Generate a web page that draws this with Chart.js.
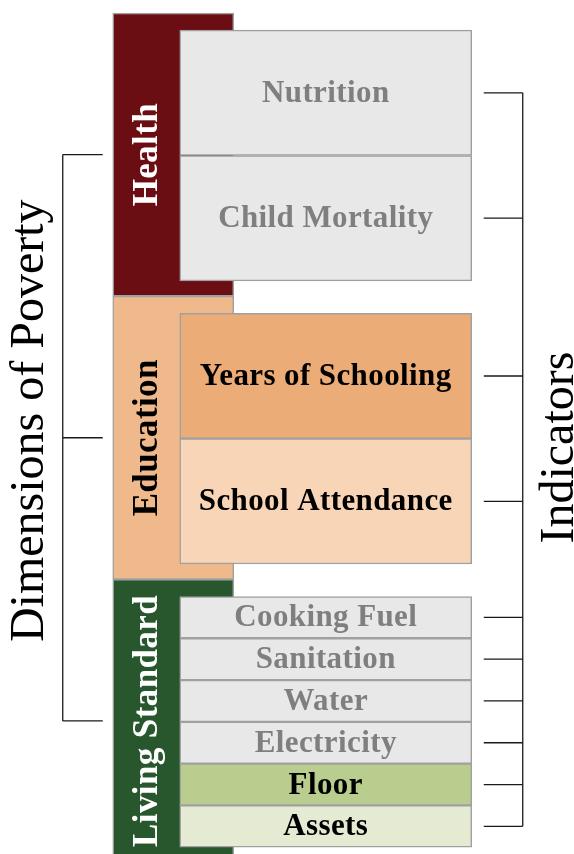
<!DOCTYPE html>
<html>
<head>
<meta charset="utf-8">
<script src="https://cdn.jsdelivr.net/npm/chart.js@4.4.1/dist/chart.umd.min.js"></script>
<style>
  html, body { margin: 0; padding: 0; background: #fff; }
  #wrap { width: 574px; height: 854px; }
</style>
</head>
<body>
<div id="wrap"><canvas id="mpi"></canvas></div>
<script>
// DIMENSIONS
const dimensions = ["Health", "Education", "Living Standard"];
const dimensionWeights = [1 / 3, 1 / 3, 1 / 3];
const dimensionColors = ["#6b0e14", "#f0b98b", "#28562d"];
const dimensionTextColors = ["#fff", "#000", "#fff"];

// INDICATORS
const indicators = ["Nutrition", "Child Mortality", "Years of Schooling", "School Attendance",
  "Cooking Fuel", "Sanitation", "Water", "Electricity", "Floor", "Assets"];
const indicatorDimension = [0, 0, 1, 1, 2, 2, 2, 2, 2, 2];
const indicatorWeights = [1 / 6, 1 / 6, 1 / 6, 1 / 6, 1 / 18, 1 / 18, 1 / 18, 1 / 18, 1 / 18, 1 / 18];
const indicatorColors = ["#e8e8e8", "#e8e8e8", "#ebac77", "#f8d5b7",
  "#e8e8e8", "#e8e8e8", "#e8e8e8", "#e8e8e8", "#b8cd8e", "#e5ebd3"];
const indicatorTextColors = ["#7f7f7f", "#7f7f7f", "#000", "#000",
  "#7f7f7f", "#7f7f7f", "#7f7f7f", "#7f7f7f", "#000", "#000"];

// floating bars built from the weights
const PAD_TOP = 0.0202;
const PAD_BOTTOM = 0.018;

let start = 0;
const dimensionBars = dimensionWeights.map((w) => {
  const bar = { x: "dim", y: [start, start + w] };
  start += w;
  return bar;
});

const offsets = dimensions.map(() => 0);
const indicatorBars = indicators.map((name, i) => {
  const d = indicatorDimension[i];
  const [d0, d1] = dimensionBars[d].y;
  const inner = d1 - d0 - PAD_TOP - PAD_BOTTOM;
  const h = (indicatorWeights[i] / dimensionWeights[d]) * inner;
  const y0 = d0 + PAD_TOP + offsets[d];
  offsets[d] += h;
  return { x: "ind", y: [y0, y0 + h] };
});

const SERIF = "'Liberation Serif', 'DejaVu Serif', serif";

const labelsPlugin = {
  id: "mpiLabels",
  afterDatasetsDraw(chart) {
    const ctx = chart.ctx;
    const dimEls = chart.getDatasetMeta(0).data;
    const indEls = chart.getDatasetMeta(1).data;
    const indLeft = indEls[0].x - indEls[0].width / 2;
    const indRight = indEls[0].x + indEls[0].width / 2;
    const dimLeft = dimEls[0].x - dimEls[0].width / 2;

    ctx.save();
    ctx.textAlign = "center";
    ctx.textBaseline = "middle";

    // dimension names, rotated
    ctx.font = "bold 35px " + SERIF;
    ctx.letterSpacing = "0.4px";
    dimEls.forEach((el, i) => {
      const cy = (el.y + el.base) / 2;
      ctx.save();
      ctx.translate((dimLeft + indLeft) / 2 + 2, cy);
      ctx.rotate(-Math.PI / 2);
      ctx.fillStyle = dimensionTextColors[i];
      ctx.fillText(dimensions[i], 0, 0);
      ctx.restore();
    });

    // indicator names
    ctx.font = "bold 31px " + SERIF;
    ctx.letterSpacing = "0.4px";
    indEls.forEach((el, i) => {
      ctx.fillStyle = indicatorTextColors[i];
      ctx.fillText(indicators[i], el.x, (el.y + el.base) / 2 + 1);
    });
    ctx.letterSpacing = "0px";

    // right bracket
    ctx.strokeStyle = "#1a1a1a";
    ctx.lineWidth = 1.3;
    const rx0 = indRight + 12;
    const rx1 = indRight + 51;
    const centers = indEls.map((el) => (el.y + el.base) / 2);
    ctx.beginPath();
    centers.forEach((cy) => {
      ctx.moveTo(rx0, cy);
      ctx.lineTo(rx1, cy);
    });
    ctx.moveTo(rx1, centers[0]);
    ctx.lineTo(rx1, centers[centers.length - 1]);
    ctx.stroke();

    // left bracket
    const lx1 = dimLeft - 10;
    const lx0 = dimLeft - 50;
    const dimCenters = dimEls.map((el) => (el.y + el.base) / 2);
    ctx.beginPath();
    dimCenters.forEach((cy) => {
      ctx.moveTo(lx0, cy);
      ctx.lineTo(lx1, cy);
    });
    ctx.moveTo(lx0, dimCenters[0]);
    ctx.lineTo(lx0, dimCenters[dimCenters.length - 1]);
    ctx.stroke();

    // titles
    ctx.fillStyle = "#000";
    ctx.font = "48px " + SERIF;
    ctx.save();
    ctx.translate(30, dimCenters[1] - 17);
    ctx.rotate(-Math.PI / 2);
    ctx.fillText("Dimensions of Poverty", 0, 0);
    ctx.restore();

    ctx.save();
    ctx.translate(560, (centers[0] + centers[centers.length - 1]) / 2 - 12);
    ctx.rotate(-Math.PI / 2);
    ctx.fillText("Indicators", 0, 0);
    ctx.restore();

    ctx.restore();
  },
};

const mpiCtx = document.getElementById("mpi").getContext("2d");

const mpiChart = new Chart(mpiCtx, {
  type: "bar",
  data: {
    labels: ["dim", "ind"],
    datasets: [
      {
        label: "Dimensions",
        data: dimensionBars,
        backgroundColor: dimensionColors,
        borderColor: "#a0a0a0",
        borderWidth: 1.5,
        borderSkipped: false,
        barThickness: 121,
        grouped: false,
        clip: false,
        order: 2,
      },
      {
        label: "Indicators",
        data: indicatorBars,
        backgroundColor: indicatorColors,
        borderColor: "#a0a0a0",
        borderWidth: 1.5,
        borderSkipped: false,
        barThickness: 292,
        grouped: false,
        clip: false,
        order: 1,
      },
    ],
  },
  options: {
    responsive: true,
    maintainAspectRatio: false,
    animation: false,
    layout: {
      padding: { left: 97, right: 172, top: 13, bottom: 0 },
    },
    plugins: {
      legend: { display: false },
      tooltip: { enabled: false },
    },
    scales: {
      x: { display: false, offset: true },
      y: { display: false, reverse: true, min: 0, max: 0.99 },
    },
  },
  plugins: [labelsPlugin],
});
</script>
</body>
</html>
